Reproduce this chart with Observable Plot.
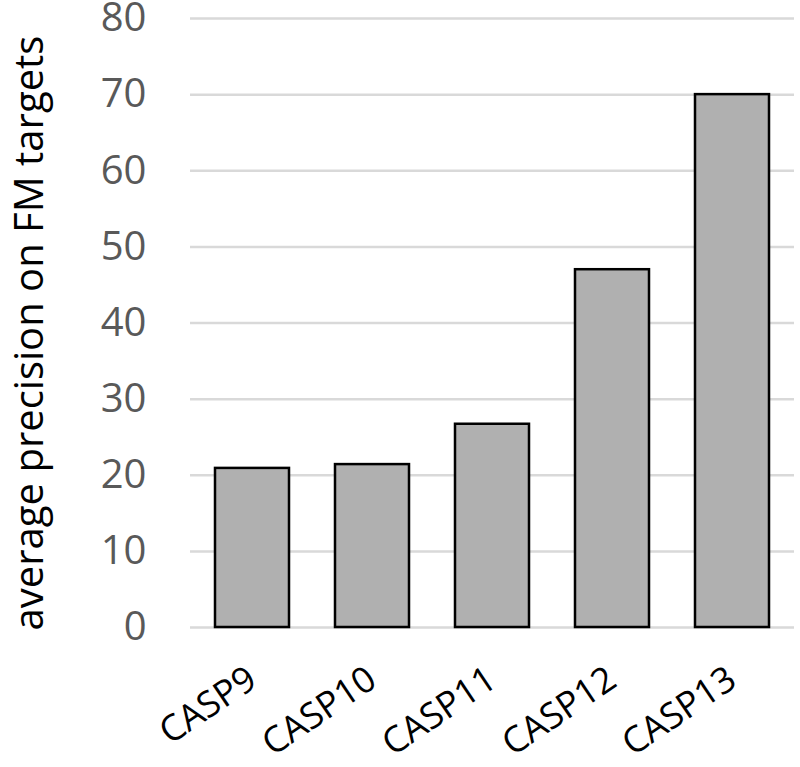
<!DOCTYPE html>
<html>
<head>
<meta charset="utf-8">
<script src="https://cdn.jsdelivr.net/npm/d3@7"></script>
<script src="https://cdn.jsdelivr.net/npm/@observablehq/plot@0.6"></script>
<style>
  html, body { margin: 0; padding: 0; background: #fff; }
  #chart svg { display: block; overflow: visible; }
</style>
</head>
<body>
<div id="chart"></div>
<script>
const categories = ["CASP9", "CASP10", "CASP11", "CASP12", "CASP13"];
const values = [20.9, 21.4, 26.7, 47.0, 70.0];
const yTicks = [0, 10, 20, 30, 40, 50, 60, 70, 80];
const yLabel = "average precision on FM targets";

const data = categories.map((c, i) => ({category: c, value: values[i]}));

const chart = Plot.plot({
  width: 800,
  height: 767,
  marginLeft: 190,
  marginRight: 6,
  marginTop: 18,
  marginBottom: 140,
  style: {fontFamily: "'Open Sans', sans-serif", background: "#fff", overflow: "visible"},
  x: {domain: categories, paddingInner: 0.38, paddingOuter: 0.19, axis: null},
  y: {domain: [0, 80], axis: null},
  marks: [
    Plot.gridY(yTicks, {stroke: "#d9d9d9", strokeOpacity: 1, strokeWidth: 2.5}),
    Plot.barY(data, {x: "category", y: "value", fill: "#b0b0b0", stroke: "#000", strokeWidth: 2.5}),
    Plot.axisY(yTicks, {tickSize: 0, tickPadding: 44, fontSize: 40, fill: "#595959", label: null}),
    Plot.axisX(categories, {tickSize: 0, tickRotate: -34, fontSize: 36, fill: "#000", tickPadding: 48, label: null}),
    Plot.text([yLabel], {frameAnchor: "left", textAnchor: "middle", lineAnchor: "middle", dx: -160, dy: 10, rotate: -90, fontSize: 40, fill: "#000"})
  ]
});
document.getElementById("chart").appendChild(chart);
</script>
</body>
</html>
